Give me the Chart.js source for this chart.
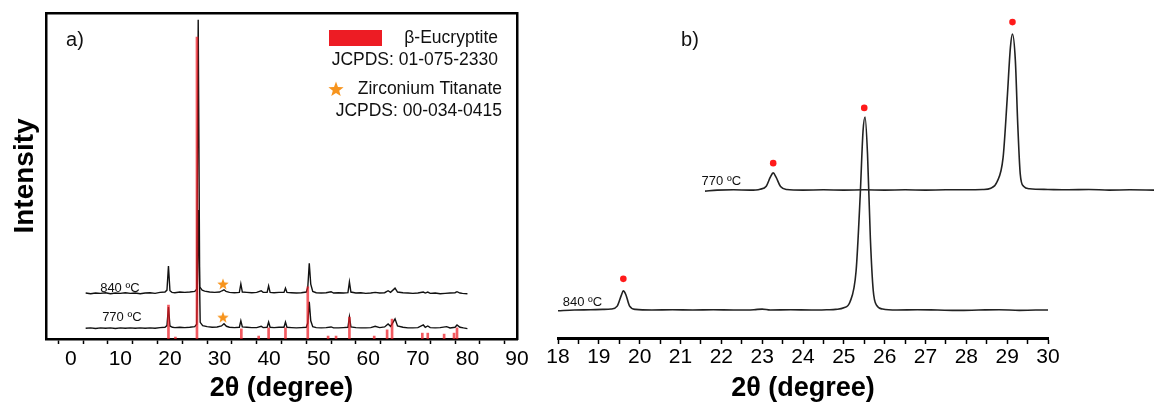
<!DOCTYPE html>
<html>
<head>
<meta charset="utf-8">
<script src="https://cdn.jsdelivr.net/npm/chart.js@4.4.1/dist/chart.umd.min.js"></script>
<style>
  body { margin: 0; background: #fff; width: 1154px; height: 403px; position: relative; overflow: hidden; }
  canvas { position: absolute; top: 0; }
  #pa { left: 0; }
  #pb { left: 540px; }
</style>
</head>
<body>
<canvas id="pa" width="540" height="403"></canvas>
<canvas id="pb" width="614" height="403"></canvas>
<script>
// ---- panel a : full XRD patterns (2theta, intensity above own baseline) ----
const a840 = [[3,0.3],[4,0.1],[5,0.3],[6,0.2],[7,0.4],[8,0.1],[9,0.3],[10,0.2],[11,0.4],[12,0.2],[13,0.3],[14,0.1],[15,0.3],[16,0.4],[17,0.2],[18,0.5],[19,0.6],[19.4,1.2],[19.7,8.6],[20.0,1.0],[20.4,0.5],[21,0.4],[22,0.6],[23,0.5],[24,0.6],[25,0.8],[25.4,1.5],[25.7,84.1],[26.0,2.2],[26.5,1.2],[27,0.9],[28,0.6],[29,0.5],[30,0.6],[30.5,1.0],[30.9,1.3],[31.3,0.8],[32,0.5],[33,0.4],[34,0.5],[34.3,3.1],[34.6,0.6],[35.5,0.5],[36.5,0.4],[37.5,0.5],[38.4,1.0],[38.8,0.5],[39.6,0.5],[39.9,2.5],[40.2,0.5],[41,0.4],[42,0.5],[43,0.5],[43.3,1.8],[43.6,0.5],[44.5,0.4],[45.5,0.3],[46.5,0.4],[47.5,0.6],[47.8,2.0],[48.1,9.4],[48.4,3.0],[48.8,0.8],[49.5,0.4],[50.5,0.3],[51.5,0.4],[52.5,0.7],[53,0.3],[54,0.4],[55,0.3],[55.9,0.4],[56.2,3.7],[56.5,0.6],[57.5,0.3],[58.5,0.4],[59.5,0.2],[60.5,0.3],[61.4,0.5],[62.3,0.3],[63.3,0.4],[64.0,1.0],[64.5,0.5],[65.4,1.8],[65.9,0.6],[67,0.4],[68,0.3],[69,0.2],[70,0.3],[71.1,0.6],[71.5,0.3],[72.0,0.6],[72.5,0.2],[73.5,0.3],[74.5,0.1],[75.5,0.2],[76.5,0.3],[77.5,0.4],[77.9,0.7],[78.5,0.3],[79,0.2],[80,0.1]];
const a770 = [[3,0.2],[4,0.3],[5,0.1],[6,0.3],[7,0.2],[8,0.3],[9,0.1],[10,0.3],[11,0.2],[12,0.3],[13,0.2],[14,0.3],[15,0.2],[16,0.3],[17,0.2],[18,0.4],[19,0.5],[19.4,1.0],[19.7,6.7],[20.0,0.9],[20.5,0.5],[21,0.4],[22,0.5],[23,0.4],[24,0.5],[25,0.7],[25.4,1.4],[25.75,36.5],[26.1,2.0],[26.6,1.0],[27.5,0.7],[28.5,0.5],[29.5,0.6],[30.4,0.9],[30.9,1.6],[31.4,0.8],[32,0.5],[33,0.4],[34,0.5],[34.3,2.5],[34.6,0.6],[35.5,0.5],[36.5,0.4],[37.5,0.4],[38.4,0.8],[38.8,0.4],[39.6,0.5],[39.9,2.1],[40.2,0.5],[41,0.4],[42,0.5],[43,0.5],[43.3,2.1],[43.6,0.5],[44.5,0.4],[45.5,0.3],[46.5,0.4],[47.5,0.5],[47.8,1.8],[48.1,8.3],[48.4,2.5],[48.8,0.7],[49.5,0.4],[50.5,0.3],[51.5,0.4],[52.5,0.6],[53,0.3],[54,0.3],[55,0.4],[55.9,0.5],[56.2,3.7],[56.5,0.6],[57.5,0.4],[58.5,0.3],[59.5,0.3],[60.5,0.4],[61.4,0.8],[62.3,0.4],[63.3,0.6],[64.0,1.5],[64.5,0.8],[65.4,3.1],[65.9,0.9],[67,0.5],[68,0.3],[69,0.3],[70,0.4],[71.1,1.2],[71.5,0.5],[72.0,0.9],[72.5,0.4],[73.5,0.3],[74.5,0.4],[75.8,0.7],[76.5,0.3],[77.5,0.5],[77.9,1.2],[78.5,0.5],[79.2,0.3],[80,0.1]];
const aOffset840 = 13.8;
const aOffset770 = 3.1;

// JCPDS 01-075-2330 reference lines (position, relative intensity)
const refPos    = [19.7, 21.1, 25.45, 34.4, 37.9, 39.9, 43.3, 47.8, 51.9, 53.5, 56.2, 61.2, 63.8, 64.8, 70.9, 72.0, 75.3, 77.3, 77.9];
const refHeight = [10.4, 0.6, 92.6, 3.1, 0.9, 3.4, 3.4, 16.0, 0.9, 0.9, 6.7, 0.9, 2.8, 6.1, 1.8, 1.8, 1.5, 1.8, 3.4];

// zirconium titanate marks
const starPos = [[30.7, 16.9], [30.7, 6.7]];

const aTicks = [0,5,10,15,20,25,30,35,40,45,50,55,60,65,70,75,80,85,90];

// ---- panel b : zoom 18-30 degrees ----
const b840 = [[18,-0.2],[18.4,0],[18.8,0.1],[19.1,0.2],[19.3,0.3],[19.45,1.2],[19.55,4.5],[19.6,5.9],[19.66,4.8],[19.75,1.3],[19.9,0.2],[20.3,0],[20.8,0.1],[21.3,0],[21.8,0.1],[22.3,0],[22.8,0.1],[23.0,0.3],[23.2,0],[23.7,0.1],[24.2,0],[24.6,0.1],[24.8,0.2],[25.0,0.7],[25.15,2.5],[25.3,12],[25.4,35],[25.47,55],[25.52,59.4],[25.58,48],[25.65,22],[25.72,6],[25.8,1.5],[25.95,0.3],[26.3,0],[26.8,0.1],[27.3,0],[27.8,-0.1],[28.3,0],[28.8,0.1],[29.3,-0.1],[29.7,0],[30,0]];
const b770 = [[21.6,-0.3],[21.9,0],[22.3,0.1],[22.7,0],[22.95,0.3],[23.1,1.2],[23.2,4],[23.27,5.3],[23.34,4],[23.45,1.1],[23.6,0.2],[24,0],[24.5,0.1],[25,0],[25.5,0.1],[26,0],[26.5,0.1],[27,0],[27.5,0.1],[28,0.1],[28.4,0.2],[28.6,0.6],[28.75,2.5],[28.9,10],[29.0,28],[29.08,44],[29.13,48],[29.2,40],[29.26,20],[29.32,5],[29.4,1.2],[29.55,0.4],[30,0.2],[30.5,0.1],[31,0.2],[31.5,0],[32,0.1],[32.6,0]];
const bOffset840 = 8.6;
const bOffset770 = 45.5;
const dotPos = [[19.6, 18.2], [23.27, 53.8], [25.5, 70.8], [29.13, 97.2]];

const bTicks = [18,18.5,19,19.5,20,20.5,21,21.5,22,22.5,23,23.5,24,24.5,25,25.5,26,26.5,27,27.5,28,28.5,29,29.5,30];

const FONT = "'Liberation Sans', Arial, sans-serif";

function pts(arr, off) {
  return arr.map(p => ({ x: p[0], y: p[1] + (off || 0) }));
}

function makeStar(size) {
  const c = document.createElement('canvas');
  c.width = c.height = size;
  const g = c.getContext('2d');
  const R = size / 2, r = R * 0.42;
  g.fillStyle = '#f7941d';
  g.beginPath();
  for (let i = 0; i < 10; i++) {
    const rad = i % 2 ? r : R;
    const ang = -Math.PI / 2 + i * Math.PI / 5;
    g.lineTo(R + rad * Math.cos(ang), R + 0.6 + rad * Math.sin(ang));
  }
  g.closePath();
  g.fill();
  return c;
}
const starSmall = makeStar(12);
const starBig = makeStar(16);

// texts and legend swatches
const notes = {
  id: 'notes',
  afterDatasetsDraw(chart, args, opts) {
    const ctx = chart.ctx;
    const sx = chart.scales.x, sy = chart.scales.y;
    ctx.save();
    (opts.rects || []).forEach(r => {
      ctx.fillStyle = r.color;
      ctx.fillRect(r.x, r.y, r.w, r.h);
    });
    (opts.images || []).forEach(im => {
      ctx.drawImage(im.img, im.x - im.img.width / 2, im.y - im.img.height / 2);
    });
    (opts.texts || []).forEach(t => {
      ctx.font = t.font;
      ctx.fillStyle = '#111';
      ctx.textAlign = t.align || 'center';
      ctx.textBaseline = 'middle';
      const px = t.data ? sx.getPixelForValue(t.x) : t.x;
      const py = t.data ? sy.getPixelForValue(t.y) : t.y;
      ctx.fillText(t.text, px, py);
    });
    ctx.restore();
  }
};

const tickFont = { family: FONT, size: 21 };
const titleFont = { family: FONT, size: 27, weight: 'bold', lineHeight: 1.1 };

// ---------------- panel a ----------------
new Chart(document.getElementById('pa'), {
  type: 'line',
  data: {
    datasets: [
      {
        type: 'bar',
        data: refPos.map((x, i) => ({ x: x, y: refHeight[i] })),
        backgroundColor: 'rgba(237,28,36,0.72)',
        barThickness: 2,
        grouped: false
      },
      {
        type: 'scatter',
        data: pts(starPos),
        pointStyle: starSmall,
        pointRadius: 6
      },
      {
        data: pts(a840, aOffset840),
        borderColor: '#111',
        borderWidth: 1.4,
        pointRadius: 0,
        tension: 0
      },
      {
        data: pts(a770, aOffset770),
        borderColor: '#111',
        borderWidth: 1.4,
        pointRadius: 0,
        tension: 0
      }
    ]
  },
  options: {
    responsive: false,
    devicePixelRatio: 1,
    animation: false,
    layout: { padding: { left: 0, top: 13, right: 23, bottom: 0 } },
    plugins: {
      legend: { display: false },
      tooltip: { enabled: false },
      notes: {
        rects: [{ x: 329, y: 30, w: 53, h: 16, color: '#ed1c24' }],
        images: [{ img: starBig, x: 336, y: 89 }],
        texts: [
          { text: 'a)', x: 75, y: 40, font: `20px ${FONT}` },
          { text: 'β-Eucryptite', x: 498, y: 38, align: 'right', font: `17.5px ${FONT}` },
          { text: 'JCPDS: 01-075-2330', x: 498, y: 60, align: 'right', font: `17.5px ${FONT}` },
          { text: 'Zirconium Titanate', x: 502, y: 89, align: 'right', font: `17.5px ${FONT}` },
          { text: 'JCPDS: 00-034-0415', x: 502, y: 111, align: 'right', font: `17.5px ${FONT}` },
          { text: '840 ºC', x: 9.9, y: 15.6, data: true, font: `13px ${FONT}` },
          { text: '770 ºC', x: 10.3, y: 6.7, data: true, font: `13px ${FONT}` }
        ]
      }
    },
    scales: {
      x: {
        type: 'linear',
        min: -5,
        max: 90,
        offset: false,
        afterBuildTicks: s => { s.ticks = aTicks.map(v => ({ value: v })); },
        afterFit: s => { s.height = 64; },
        ticks: {
          autoSkip: false,
          maxRotation: 0,
          padding: 3,
          color: '#000',
          font: tickFont,
          callback: v => (v % 10 === 0 ? String(v) : '')
        },
        grid: { drawOnChartArea: false, tickLength: 5, tickWidth: 1.5, color: '#000' },
        border: { width: 2.5, color: '#000' },
        title: { display: true, text: '2θ (degree)', color: '#000', font: titleFont, padding: { top: 0, bottom: 0 } }
      },
      y: {
        min: 0,
        max: 100,
        afterFit: s => { s.width = 46; },
        ticks: { display: false },
        grid: { display: false },
        border: { width: 2.5, color: '#000' },
        title: {
          display: true,
          text: 'Intensity',
          color: '#000',
          font: { family: FONT, size: 28, weight: 'bold', lineHeight: 1.2 },
          padding: { top: 8, bottom: 0 }
        }
      },
      x2: {
        type: 'linear',
        position: 'top',
        afterFit: s => { s.height = 0; },
        ticks: { display: false },
        grid: { display: false },
        border: { width: 2.5, color: '#000' }
      },
      y2: {
        type: 'linear',
        position: 'right',
        afterFit: s => { s.width = 0; },
        ticks: { display: false },
        grid: { display: false },
        border: { width: 2.5, color: '#000' }
      }
    }
  },
  plugins: [notes]
});

// ---------------- panel b ----------------
new Chart(document.getElementById('pb'), {
  type: 'line',
  data: {
    datasets: [
      {
        type: 'scatter',
        data: pts(dotPos),
        pointRadius: 3.3,
        pointBackgroundColor: '#ff1a1a',
        pointBorderWidth: 0
      },
      {
        data: pts(b840, bOffset840),
        borderColor: '#222',
        borderWidth: 1.6,
        pointRadius: 0,
        cubicInterpolationMode: 'monotone'
      },
      {
        data: pts(b770, bOffset770),
        borderColor: '#222',
        borderWidth: 1.6,
        pointRadius: 0,
        cubicInterpolationMode: 'monotone',
        clip: false
      }
    ]
  },
  options: {
    responsive: false,
    devicePixelRatio: 1,
    animation: false,
    layout: { padding: { left: 18, top: 13, right: 106, bottom: 0 } },
    plugins: {
      legend: { display: false },
      tooltip: { enabled: false },
      notes: {
        texts: [
          { text: 'b)', x: 150, y: 40, font: `20px ${FONT}` },
          { text: '840 ºC', x: 18.6, y: 11.1, data: true, font: `13px ${FONT}` },
          { text: '770 ºC', x: 22.0, y: 48.3, data: true, font: `13px ${FONT}` }
        ]
      }
    },
    scales: {
      x: {
        type: 'linear',
        offset: false,
        afterDataLimits: s => { s.min = 18; s.max = 30; },
        afterBuildTicks: s => { s.ticks = bTicks.map(v => ({ value: v })); },
        afterFit: s => { s.height = 65; },
        ticks: {
          autoSkip: false,
          maxRotation: 0,
          padding: 1,
          color: '#000',
          font: tickFont,
          callback: v => (Number.isInteger(v) ? String(v) : '')
        },
        grid: { drawOnChartArea: false, tickLength: 6, tickWidth: 1.5, color: '#000' },
        border: { width: 3, color: '#000' },
        title: { display: true, text: '2θ (degree)', color: '#000', font: titleFont, padding: { top: 0, bottom: 0 } }
      },
      y: {
        display: false,
        min: 0,
        max: 100
      }
    }
  },
  plugins: [notes]
});
</script>
</body>
</html>
